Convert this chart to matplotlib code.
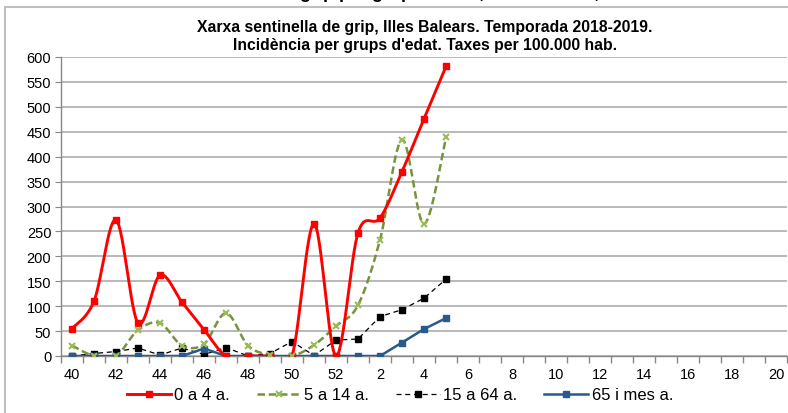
import matplotlib.pyplot as plt
import numpy as np
from matplotlib.patches import Rectangle

weeks = list(range(40, 53)) + list(range(1, 21))
tick_labels = [str(w) if w % 2 == 0 else "" for w in weeks]

age_0_4 = [55, 110, 273, 66, 162, 108, 53, 0, 0, 0, 0, 265, 0, 247, 277, 370, 476, 581]
age_5_14 = [21, 0, 0, 52, 66, 21, 24, 86, 21, 2, 0, 22, 60, 102, 233, 434, 265, 439]
age_15_64 = [0, 5, 9, 16, 2, 16, 3, 17, 0, 5, 29, 1, 32, 34, 79, 93, 116, 154]
age_65 = [0, 0, 0, 0, 0, 0, 15, 0, 0, 0, 0, 0, 0, 0, 0, 27, 54, 76]


def smooth(xs, ys, n=30):
    # Excel-like smoothed line: cubic bezier through the points
    xs = np.asarray(xs, float)
    ys = np.asarray(ys, float)
    out_x, out_y = [], []
    last = len(xs) - 1
    for i in range(last):
        i0 = max(i - 1, 0)
        i3 = min(i + 2, last)
        c1x = xs[i] + (xs[i + 1] - xs[i0]) / 6
        c1y = ys[i] + (ys[i + 1] - ys[i0]) / 6
        c2x = xs[i + 1] - (xs[i3] - xs[i]) / 6
        c2y = ys[i + 1] - (ys[i3] - ys[i]) / 6
        t = np.linspace(0, 1, n)
        a = (1 - t) ** 3
        b = 3 * (1 - t) ** 2 * t
        c = 3 * (1 - t) * t ** 2
        d = t ** 3
        out_x.extend(a * xs[i] + b * c1x + c * c2x + d * xs[i + 1])
        out_y.extend(a * ys[i] + b * c1y + c * c2y + d * ys[i + 1])
    return out_x, out_y


def main():
    plt.rcParams["font.family"] = ["Liberation Sans", "DejaVu Sans"]

    fig = plt.figure(figsize=(7.88, 4.14), dpi=100)
    ax = fig.add_axes([61 / 788, 1 - 357 / 414, 726 / 788, 299 / 414])

    # outer chart border and the clipped page title above it
    fig.patches.append(Rectangle((5 / 788, -0.1), 1.2, 1 - 8 / 414 + 0.1,
                                 transform=fig.transFigure, fill=False,
                                 edgecolor="#bfbfbf", linewidth=1.5))
    fig.text(300 / 788, 1 + 2 / 414, "grip per grups d'edat, Illes Balears,",
             ha="left", va="baseline", fontsize=13, fontweight="bold")

    x = np.arange(len(age_0_4))

    sx, sy = smooth(x, age_0_4)
    ax.plot(sx, sy, color="#ff0000", linewidth=2.1, zorder=5)
    ax.plot(x, age_0_4, linestyle="none", marker="s", markersize=5,
            color="#ff0000", zorder=6)

    sx, sy = smooth(x, age_5_14)
    ax.plot(sx, sy, color="#77933c", linewidth=1.8, linestyle=(0, (3, 1.5)), zorder=4)
    ax.plot(x, age_5_14, linestyle="none", marker="x", markersize=5,
            markeredgewidth=1.5, color="#9bbb59", zorder=6)

    ax.plot(x, age_15_64, color="black", linewidth=0.9, linestyle=(0, (4, 3)),
            marker="s", markersize=5, zorder=3)

    ax.plot(x, age_65, color="#2a5a8c", linewidth=1.8, marker="s", markersize=4,
            zorder=4)

    # legend handles
    ax.plot([], [], color="#ff0000", linewidth=2.1, marker="s", markersize=4, label="0 a 4 a.")
    ax.plot([], [], color="#77933c", linewidth=1.8, linestyle=(0, (3, 1.5)), marker="x",
            markersize=4, markeredgewidth=1.5, markeredgecolor="#9bbb59", label="5 a 14 a.")
    ax.plot([], [], color="black", linewidth=0.9, linestyle=(0, (4, 3)), marker="s",
            markersize=4, label="15 a 64 a.")
    ax.plot([], [], color="#2a5a8c", linewidth=1.8, marker="s", markersize=4, label="65 i mes a.")
    handles, labels = ax.get_legend_handles_labels()
    fig.legend(handles, labels, loc="center", bbox_to_anchor=(400 / 788, 1 - 396 / 414),
               ncol=4, frameon=False, fontsize=12, handlelength=2.65,
               columnspacing=1.6, handletextpad=0.2)

    ax.set_title("Xarxa sentinella de grip, Illes Balears. Temporada 2018-2019.\n"
                 "Incidència per grups d'edat. Taxes per 100.000 hab.",
                 fontsize=11.3, fontweight="bold", pad=6, linespacing=1.25,
                 x=(425 - 61) / 726)

    ax.set_xlim(-0.5, len(weeks) - 0.5)
    ax.set_ylim(0, 600)
    ax.set_yticks(range(0, 601, 50))
    ax.set_xticks(range(len(weeks)))
    ax.set_xticklabels(tick_labels)
    ax.set_xticks(np.arange(-0.5, len(weeks), 1), minor=True)
    ax.tick_params(axis="x", which="major", length=0, labelsize=10.5, pad=8)
    ax.tick_params(axis="x", which="minor", length=5, color="#888888", width=1)
    ax.tick_params(axis="y", length=4, color="#888888", labelsize=10.5, pad=3)

    ax.grid(axis="y", color="#a6a6a6", linewidth=1.1)
    ax.set_axisbelow(True)
    for side in ["top", "right"]:
        ax.spines[side].set_visible(False)
    for side in ["left", "bottom"]:
        ax.spines[side].set_color("#888888")
        ax.spines[side].set_linewidth(1)

    fig.savefig("out.png", dpi=100)
    plt.close(fig)


if __name__ == "__main__":
    main()
